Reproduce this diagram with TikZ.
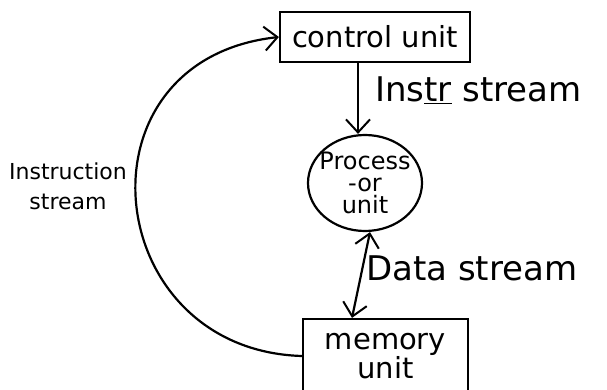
\documentclass[tikz,border=0pt]{standalone}
\usepackage{fontspec}
\setmainfont{DejaVu Sans}
\usetikzlibrary{arrows.meta,shapes.geometric}
\begin{document}
\begin{tikzpicture}[x=1pt,y=-1pt,
  hand/.style={line width=2.2pt,black},
  barb/.tip={Straight Barb[length=13pt,width=24pt,line width=2pt]},
  tip/.style={-barb},
  boxnode/.style={draw,hand,rectangle,inner sep=0pt},
  lbl/.style={font=\fontsize{34}{38}\selectfont,inner sep=0pt,anchor=west}]
\useasboundingbox (0,0) rectangle (607,390);
\node[boxnode,minimum width=190pt,minimum height=50pt,
      font=\fontsize{29}{32}\selectfont] (cu) at (375,37) {control unit};
\node[draw,hand,ellipse,minimum width=114pt,minimum height=96pt,inner sep=-7pt,
      align=center,font=\fontsize{24}{22}\selectfont] (pu) at (365,183) {Process\\-or\\unit};
\node[boxnode,minimum width=165pt,minimum height=74pt,align=center,
      font=\fontsize{29}{28}\selectfont] (mu) at (385.5,356) {memory\\unit};
\draw[hand,tip] (cu.south -| 358,0) -- (pu.north -| 358,0);
\draw[hand,barb-barb] (pu.south -| 370,0) -- (mu.north -| 352,0);
\draw[hand,tip] (mu.west) .. controls (100,350) and (70,60) .. (cu.west);
\node[lbl] (l1) at (375,90) {Ins\underline{tr} stream};
\node[lbl] (l2) at (366,268) {Data stream};
\node[align=center,inner sep=0pt,font=\fontsize{22}{30}\selectfont] (l3) at (68,186) {Instruction\\stream};
\end{tikzpicture}
\end{document}
